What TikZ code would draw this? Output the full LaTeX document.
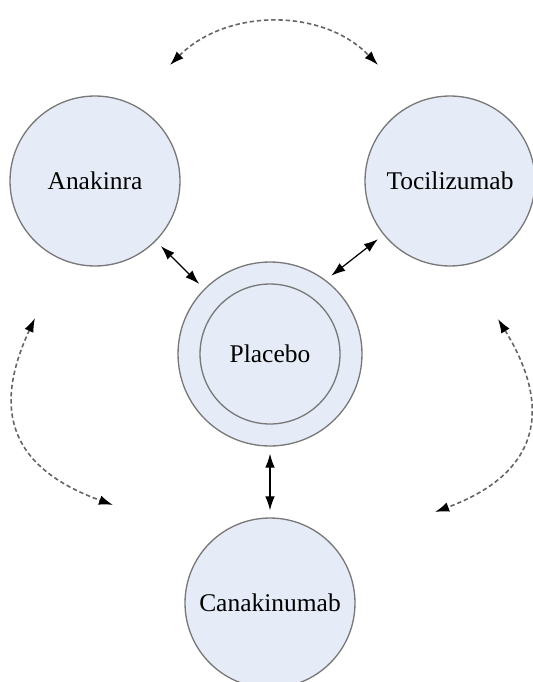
\documentclass[tikz,border=0pt]{standalone}
\usepackage{fontspec}
\setmainfont{Liberation Serif}
\usetikzlibrary{arrows.meta}
\definecolor{cfill}{RGB}{230,236,247}
\definecolor{cline}{RGB}{120,120,120}
\definecolor{cdash}{RGB}{100,100,100}
\begin{document}
\begin{tikzpicture}[x=0.02cm,y=-0.02cm,
  drug/.style={circle,draw=cline,fill=cfill,line width=0.75pt,minimum size=3.4cm,inner sep=0pt,font=\fontsize{14.5}{17}\selectfont},
  link/.style={{Latex[length=8pt,width=5.5pt]}-{Latex[length=8pt,width=5.5pt]},line width=0.7pt,draw=black,shorten <=4pt,shorten >=4pt},
  cross/.style={{Latex[length=8pt,width=5.5pt,color=black]}-{Latex[length=8pt,width=5.5pt,color=black]},draw=cdash,dash pattern=on 2.5pt off 1.6pt,line width=0.9pt}]
\useasboundingbox (0,0) rectangle (533,682);
\node[drug] (ana) at (95,181) {Anakinra};
\node[drug] (toc) at (450,181) {Tocilizumab};
\node[drug,minimum size=3.68cm] (pla) at (270,354) {};
\node[drug,minimum size=2.8cm] (plin) at (270,354) {Placebo};
\node[drug] (can) at (270,603) {Canakinumab};
\draw[link] (ana) -- (pla);
\draw[link] (toc.219) -- (pla.53);
\draw[link] (pla.south) -- (can.north);
\coordinate (t1) at (170,65);
\coordinate (t2) at (378,65);
\coordinate (l1) at (35,318);
\coordinate (l2) at (113,505);
\coordinate (r1) at (498,319);
\coordinate (r2) at (435,512);
\draw[cross] (t1) .. controls (227,8) and (323,8) .. (t2);
\draw[cross] (l1) .. controls (-3,400) and (0,464) .. (l2);
\draw[cross] (r1) .. controls (548,400) and (548,470) .. (r2);
\end{tikzpicture}
\end{document}
